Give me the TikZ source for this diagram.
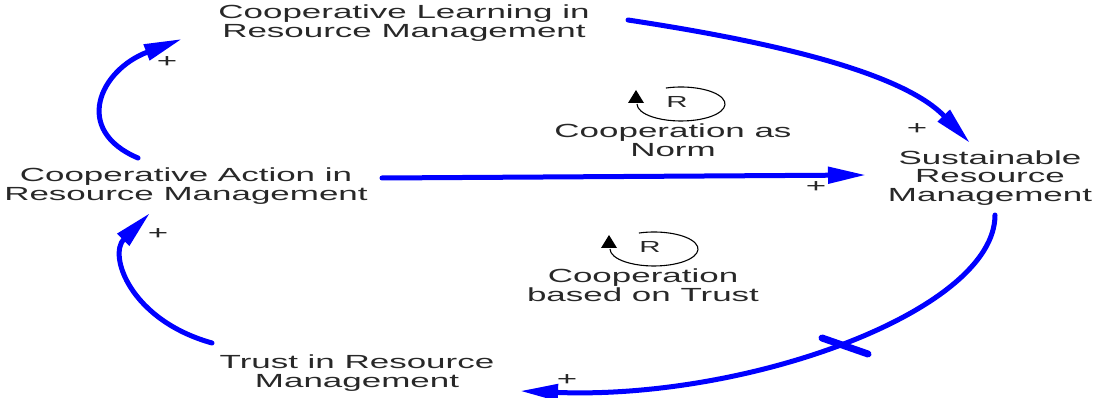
\documentclass[tikz,border=0pt]{standalone}
\usepackage{fontspec}
\setmainfont[FakeStretch=1.84]{Liberation Sans}
\usetikzlibrary{arrows.meta}
\definecolor{linkblue}{RGB}{0,0,255}
\definecolor{txt}{RGB}{40,40,40}
\begin{document}
\begin{tikzpicture}[x=1pt,y=-1pt,
  var/.style={align=center,inner sep=0pt,font=\fontsize{19}{18.5}\selectfont,text=txt},
  pol/.style={inner sep=0pt,font=\fontsize{19}{19}\selectfont,text=txt},
  link/.style={draw=linkblue,line width=5pt,line cap=round,-{Triangle[length=38pt,width=16pt]}},
  loopline/.style={draw=black,line width=1.1pt},
  rlabel/.style={inner sep=0pt,font=\fontsize{16}{16}\selectfont,text=txt}]
\useasboundingbox (0,0) rectangle (1096,398);
% variables
\node[var] (top) at (404,23) {Cooperative Learning in\\Resource Management};
\node[var] (left) at (186,186) {Cooperative Action in\\Resource Management};
\node[var] (right) at (990,178) {Sustainable\\Resource\\Management};
\node[var] (bottom) at (357,373) {Trust in Resource\\Management};
% loop labels
\node[var] (l1) at (673,140) {Cooperation as\\Norm};
\node[var] (l2) at (643,285) {Cooperation\\based on Trust};
\node[rlabel] (r1) at (677,102) {R};
\node[rlabel] (r2) at (650,247) {R};
\foreach \r in {r1,r2}{
  \draw[loopline] ([shift={(4,2)}]\r.center) ++(-110:44 and 17)
     arc[start angle=-110,end angle=180,x radius=44,y radius=17];
  \fill[black] ([shift={(-41,-12)}]\r.center) -- ([shift={(-49,1)}]\r.center)
     -- ([shift={(-33,1)}]\r.center) -- cycle;
}
% links
\draw[link] ([shift={(224,-3)}]top.center) .. controls (760,40) and (900,70) .. ([shift={(-20,-35)}]right.center);
\draw[link] ([shift={(-48,-28)}]left.center) .. controls (72,130) and (100,70) .. ([shift={(-222,16)}]top.center);
\draw[link] ([shift={(196,-8)}]left.center) -- ([shift={(-124,-3)}]right.center);
\draw[link] ([shift={(5,37)}]right.center) .. controls (995,310) and (750,400) .. ([shift={(163,18)}]bottom.center);
\draw[link] ([shift={(-145,-30)}]bottom.center) .. controls (130,320) and (108,255) .. ([shift={(-36,27)}]left.center);
% delay mark
\draw[draw=linkblue,line width=7pt,line cap=round] (822,338) -- (868,354);
% polarities
\node[pol] (p1) at (917,129) {+};
\node[pol] (p2) at (167,62) {+};
\node[pol] (p3) at (816,187) {+};
\node[pol] (p4) at (567,380) {+};
\node[pol] (p5) at (158,234) {+};
\end{tikzpicture}
\end{document}
